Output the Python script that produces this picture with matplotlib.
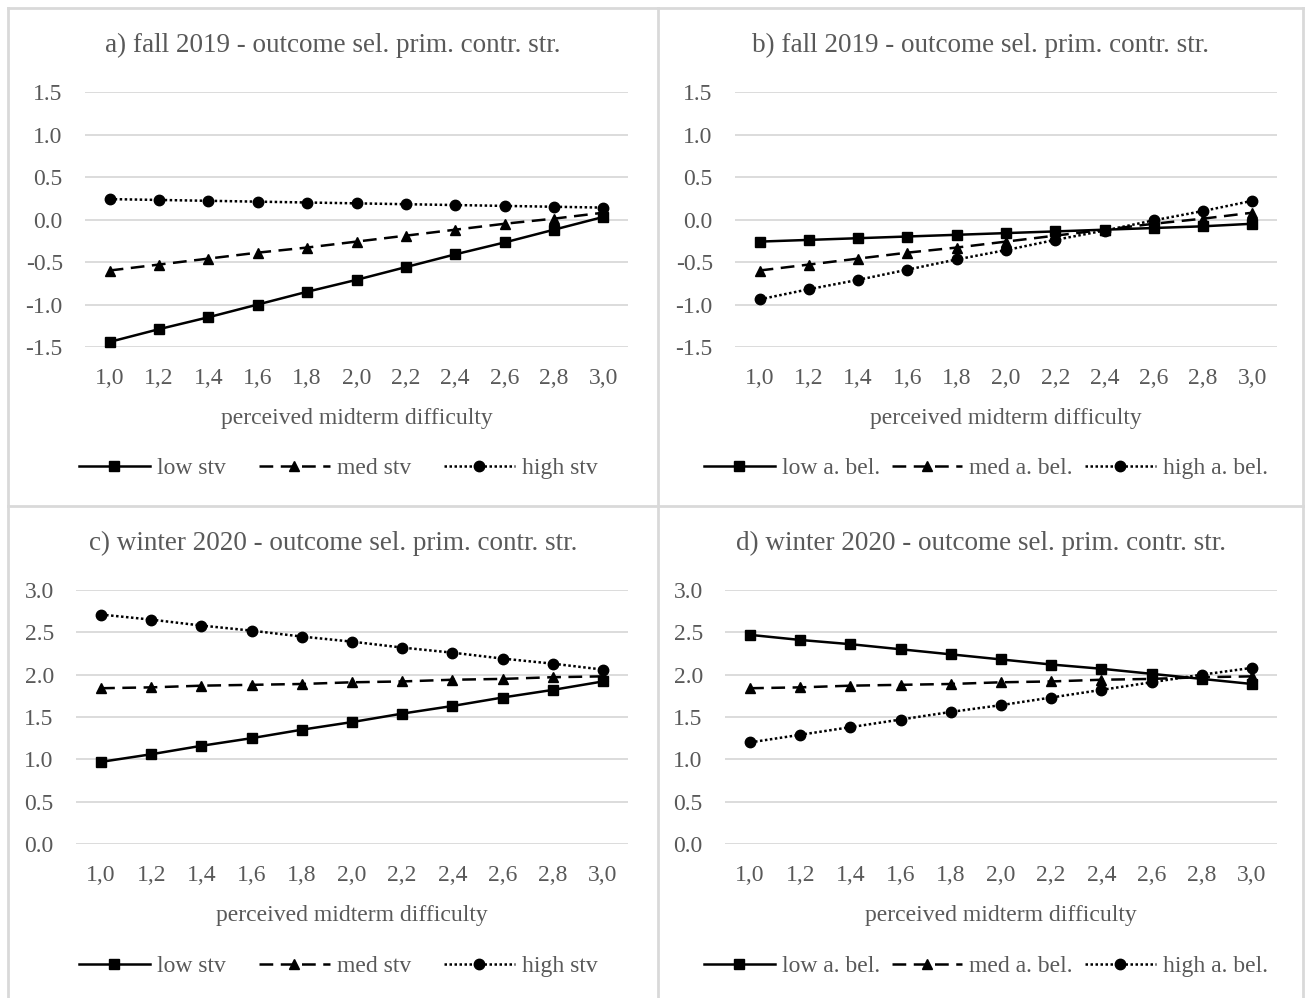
import numpy as np
import matplotlib
matplotlib.use('Agg')
import matplotlib.pyplot as plt
from matplotlib.lines import Line2D

# ── Data ──────────────────────────────────────────────────────────────────────
x_labels = ['1,0', '1,2', '1,4', '1,6', '1,8', '2,0', '2,2', '2,4', '2,6', '2,8', '3,0']

a_low  = [-1.44, -1.29, -1.15, -1.00, -0.85, -0.71, -0.56, -0.41, -0.27, -0.12, 0.03]
a_med  = [-0.60, -0.53, -0.46, -0.39, -0.33, -0.26, -0.19, -0.12, -0.05, 0.01, 0.08]
a_high = [0.24, 0.23, 0.22, 0.21, 0.20, 0.19, 0.18, 0.17, 0.16, 0.15, 0.14]

b_low  = [-0.26, -0.24, -0.22, -0.20, -0.18, -0.16, -0.14, -0.12, -0.10, -0.08, -0.05]
b_med  = [-0.60, -0.53, -0.46, -0.39, -0.33, -0.26, -0.19, -0.12, -0.05, 0.01, 0.08]
b_high = [-0.94, -0.82, -0.71, -0.59, -0.47, -0.36, -0.24, -0.13, -0.01, 0.10, 0.22]

c_low  = [0.97, 1.06, 1.16, 1.25, 1.35, 1.44, 1.54, 1.63, 1.73, 1.82, 1.92]
c_med  = [1.84, 1.85, 1.87, 1.88, 1.89, 1.91, 1.92, 1.94, 1.95, 1.97, 1.98]
c_high = [2.71, 2.65, 2.58, 2.52, 2.45, 2.39, 2.32, 2.26, 2.19, 2.13, 2.06]

d_low  = [2.47, 2.41, 2.36, 2.30, 2.24, 2.18, 2.12, 2.07, 2.01, 1.95, 1.89]
d_med  = [1.84, 1.85, 1.87, 1.88, 1.89, 1.91, 1.92, 1.94, 1.95, 1.97, 1.98]
d_high = [1.20, 1.29, 1.38, 1.47, 1.56, 1.64, 1.73, 1.82, 1.91, 2.00, 2.08]

titles = ['a) fall 2019 - outcome sel. prim. contr. str.',
          'b) fall 2019 - outcome sel. prim. contr. str.',
          'c) winter 2020 - outcome sel. prim. contr. str.',
          'd) winter 2020 - outcome sel. prim. contr. str.']
stv_names = ['low stv', 'med stv', 'high stv']
bel_names = ['low a. bel.', 'med a. bel.', 'high a. bel.']

# ── Style ─────────────────────────────────────────────────────────────────────
W, H = 1305, 998
TXT = '#595959'
GRID = '#D9D9D9'
FS = 17
plt.rcParams['font.family'] = ['Liberation Serif', 'DejaVu Serif']

fig = plt.figure(figsize=(W / 100, H / 100), dpi=100)

def px_rect(l, r, t, b):
    return [l / W, 1 - b / H, (r - l) / W, (b - t) / H]

# plot rect, chart area (left, right, top), series, legend names, y range, legend col spacing
panels = [
    (px_rect(85, 628, 92, 347), (8, 658, 8), (a_low, a_med, a_high), stv_names, (-1.5, 1.5), 1.4),
    (px_rect(735, 1277, 92, 347), (658, 1303, 8), (b_low, b_med, b_high), bel_names, (-1.5, 1.5), 0.5),
    (px_rect(76, 628, 590, 844), (8, 658, 506), (c_low, c_med, c_high), stv_names, (0.0, 3.0), 1.4),
    (px_rect(725, 1277, 590, 844), (658, 1303, 506), (d_low, d_med, d_high), bel_names, (0.0, 3.0), 0.5),
]

styles = [dict(ls='-', marker='s', ms=7.5),
          dict(ls=(0, (5.5, 3)), marker='^', ms=7),
          dict(ls=(0, (1, 1)), marker='o', ms=7.5)]

xs = np.arange(len(x_labels))
for i, (rect, (cl, cr, ct), series, names, (ylo, yhi), cs) in enumerate(panels):
    ax = fig.add_axes(rect)
    ax.set_xlim(-0.5, len(x_labels) - 0.5)
    ax.set_ylim(ylo, yhi)
    yt = np.arange(ylo, yhi + 0.01, 0.5)
    ax.set_yticks(yt)
    ax.set_yticklabels([f'{v:.1f}' for v in yt])
    ax.set_xticks(xs)
    ax.set_xticklabels(x_labels)
    ax.tick_params(length=0, colors=TXT, labelsize=FS)
    ax.tick_params(axis='x', pad=15)
    ax.tick_params(axis='y', pad=16)
    for sp in ax.spines.values():
        sp.set_visible(False)
    ax.grid(axis='y', color=GRID, lw=1.3)
    ax.set_axisbelow(True)
    for ys, st, nm in zip(series, styles, names):
        ax.plot(xs, ys, color='black', lw=1.8, label=nm, clip_on=False, **st)
    ax.set_xlabel('perceived midterm difficulty', color=TXT, fontsize=FS, labelpad=14)

    cx = (cl + cr) / 2 / W
    fig.text(cx, 1 - (ct + 37) / H, titles[i], ha='center', va='center',
             color=TXT, fontsize=19.5)
    handles = [Line2D([], [], color='black', lw=1.8, **st) for st in styles]
    fig.legend(handles, names, loc='center', bbox_to_anchor=(cx + 0.004, 1 - (ct + 460) / H),
               ncol=3, frameon=False, fontsize=FS, handlelength=3.0,
               handletextpad=0.3, columnspacing=cs, labelcolor=TXT)

# chart area borders
for (x0, y0, x1, y1) in [(8, 8, 1303, 8), (8, 8, 8, 998), (658, 8, 658, 998),
                         (1303, 8, 1303, 998), (8, 506, 1303, 506)]:
    fig.add_artist(Line2D([x0 / W, x1 / W], [1 - y0 / H, 1 - y1 / H],
                          color=GRID, lw=2))

fig.savefig('out.png', dpi=100)
